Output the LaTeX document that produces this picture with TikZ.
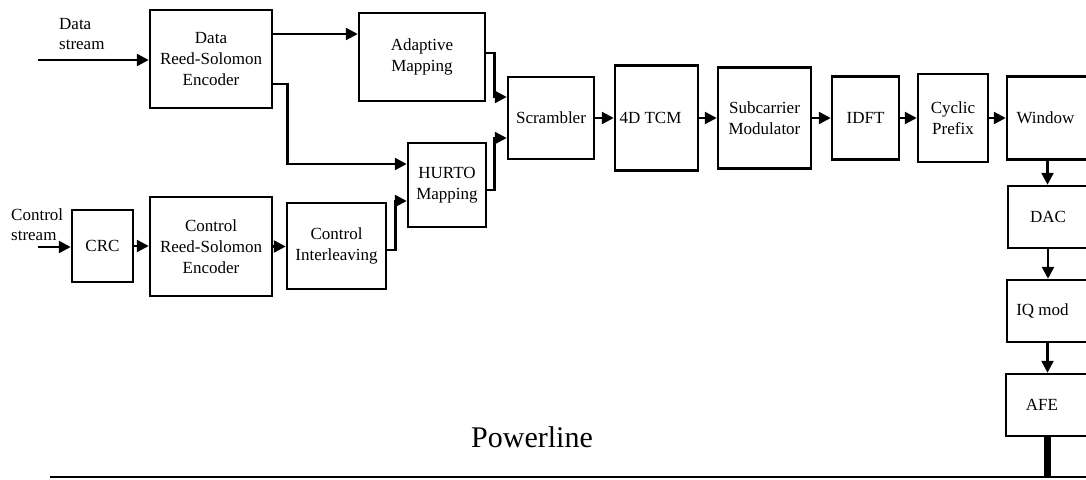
\documentclass[tikz,border=0pt]{standalone}
\usepackage{fontspec}
\setmainfont{Liberation Serif}
\usetikzlibrary{arrows.meta,calc}
\begin{document}
\begin{tikzpicture}[x=1pt,y=-1pt,
  blk/.style={draw,line width=2.5pt,align=center,inner sep=0pt,font=\fontsize{17}{21}\selectfont},
  lbl/.style={align=left,inner sep=0pt,font=\fontsize{17}{20}\selectfont},
  arr/.style={line width=2.5pt,-{Triangle[length=12pt,width=12pt]}}]
\useasboundingbox (0,0) rectangle (1086,479);
\clip (0,0) rectangle (1086,479);
% blocks
\node[blk,minimum width=122pt,minimum height=98pt] (drs) at (211,59) {Data\\Reed-Solomon\\Encoder};
\node[blk,minimum width=126pt,minimum height=88pt] (ad) at (422,57) {Adaptive\\Mapping};
\node[blk,minimum width=78pt,minimum height=84pt] (hu) at (447,185) {HURTO\\Mapping};
\node[blk,minimum width=86pt,minimum height=82pt] (scr) at (551,118) {Scrambler};
\node[blk,minimum width=83pt,minimum height=105pt] (tcm) at (656.5,118) {4D TCM\hspace*{12pt}};
\node[blk,minimum width=93pt,minimum height=101pt] (sub) at (764.5,118) {Subcarrier\\Modulator};
\node[blk,minimum width=67pt,minimum height=83pt] (idft) at (865.5,118) {IDFT};
\node[blk,minimum width=70pt,minimum height=88pt] (cp) at (953,118) {Cyclic\\Prefix};
\node[blk,minimum width=81pt,minimum height=83pt] (win) at (1047.5,118) {Window\hspace*{4pt}};
\node[blk,minimum width=80pt,minimum height=62pt] (dac) at (1048,217) {DAC};
\node[blk,minimum width=81pt,minimum height=62pt] (iq) at (1047.5,311) {IQ mod\hspace*{10pt}};
\node[blk,minimum width=82pt,minimum height=62pt] (afe) at (1047,405) {AFE\hspace*{10pt}};
\node[blk,minimum width=61pt,minimum height=72pt] (crc) at (102.5,246) {CRC};
\node[blk,minimum width=122pt,minimum height=99pt] (crs) at (211,246.5) {Control\\Reed-Solomon\\Encoder};
\node[blk,minimum width=99pt,minimum height=86pt] (ci) at (336.5,246) {Control\\Interleaving};
% labels
\node[lbl,anchor=west] (dlab) at (59,34) {Data\\stream};
\node[lbl,anchor=west] (clab) at (11,225) {Control\\stream};
\node[inner sep=0pt,font=\fontsize{30}{36}\selectfont] (pl) at (532,437) {Powerline};
% inputs
\coordinate (din) at (38,60);
\coordinate (cin) at (38,247);
\draw[arr] (din) -- (din -| drs.west);
\draw[arr] (cin) -- (cin -| crc.west);
% data branch
\draw[arr] ([yshift=25pt]drs.east) coordinate (a1) -- (a1 -| ad.west);
\draw[arr] ([yshift=-25pt]drs.east) -- ++(14,0) |- ([yshift=21pt]hu.west);
\draw[arr] ([yshift=4pt]ad.east) -- ++(8,0) |- ([yshift=21pt]scr.west);
\draw[arr] ([yshift=-5pt]hu.east) -- ++(7,0) |- ([yshift=-20pt]scr.west);
% control branch
\draw[arr] (crc.east) -- (crc.east -| crs.west);
\draw[arr] (crs.east) -- (crs.east -| ci.west);
\draw[arr] ([yshift=-4pt]ci.east) -- ++(8,0) |- ([yshift=-16pt]hu.west);
% main chain
\draw[arr] (scr.east) -- (scr.east -| tcm.west);
\draw[arr] (tcm.east) -- (tcm.east -| sub.west);
\draw[arr] (sub.east) -- (sub.east -| idft.west);
\draw[arr] (idft.east) -- (idft.east -| cp.west);
\draw[arr] (cp.east) -- (cp.east -| win.west);
\draw[arr] (win.south) -- (win.south |- dac.north);
\draw[arr] (dac.south) -- (dac.south |- iq.north);
\draw[arr] (iq.south) -- (iq.south |- afe.north);
% powerline
\coordinate (pl1) at (50,477);
\coordinate (pl2) at (1090,477);
\draw[line width=2pt] (pl1) -- (pl2);
\draw[line width=7pt] (afe.south) -- (afe.south |- pl2);
\end{tikzpicture}
\end{document}
